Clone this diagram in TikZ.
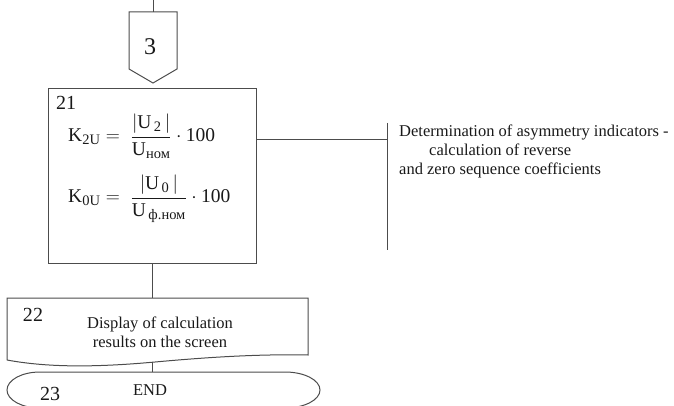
\documentclass[tikz,border=0pt]{standalone}
\usepackage{fix-cm}
\usepackage{amsmath}
\usepackage{fontspec}
\setmainfont{Liberation Serif}
% subscript set at a fixed, slightly larger size
\newcommand{\subtxt}[1]{\mbox{\fontsize{14.5}{15}\selectfont #1}}

\begin{document}
\begin{tikzpicture}[x=1pt,y=-1pt,
  line/.style={draw=black!70, line width=1pt},
  txt/.style={font=\fontsize{16.5}{18.7}\selectfont, inner sep=0pt, text=black!90},
  num/.style={font=\fontsize{20}{22}\selectfont, inner sep=0pt, text=black!90},
  big/.style={font=\fontsize{24}{28}\selectfont, inner sep=0pt, text=black!90},
  fml/.style={font=\fontsize{19.5}{22}\selectfont, inner sep=0pt, text=black!90}]
\useasboundingbox (0,0) rectangle (674,406);

% off-page connector 3
\coordinate (in) at (153,0);
\coordinate (c3top) at (153,12);
\draw[line] (129,12) -- (177,12) -- (177,69) -- (153,83) -- (129,69) -- cycle;
\draw[line] (in) -- (c3top);
\node[big] (c3) at (150,47) {3};

% block 21: asymmetry coefficients
\node[line, minimum width=208pt, minimum height=175pt, inner sep=0pt] (b21) at (152.5,176) {};
\node[num] (n21) at (66,103) {21};
\node[fml, anchor=base west] (f1) at (68,142)
  {$\text{K}_{\subtxt{2U}} = \;\dfrac{\left|\text{U}_{\subtxt{\,2}}\,\right|}{\text{U}_{\subtxt{ном}}}\cdot\text{100}$};
\node[fml, anchor=base west] (f2) at (68,203)
  {$\text{K}_{\subtxt{0U}} = \;\dfrac{\left|\text{U}_{\subtxt{\,0}}\,\right|}{\text{U}_{\subtxt{\,ф.ном}}}\cdot\text{100}$};

% comment bracket
\coordinate (brtop) at (387,123);
\coordinate (brbot) at (387,250);
\coordinate (brmid) at (387,140);
\draw[line] (brtop) -- (brbot);
\draw[line] (brmid -| b21.east) -- (brmid);
\node[txt, anchor=north west, align=left] (note) at (399,125)
  {Determination of asymmetry indicators -\\
   \hspace*{30pt}calculation of reverse\\
   and zero sequence coefficients};

% block 22: display (document shape)
\coordinate (d22nw) at (7,298);
\coordinate (d22ne) at (308,298);
\coordinate (d22se) at (308,355);
\coordinate (d22sw) at (7,360);
\coordinate (d22n) at (152.5,298);
\coordinate (d22s) at (152.5,362);
\draw[line] (d22sw) -- (d22nw) -- (d22ne) -- (d22se)
  .. controls (260,354) and (210,357) .. (155,362)
  .. controls (100,367) and (50,368) .. (d22sw);
\node[num] (n22) at (33,315) {22};
\node[txt, align=center] (t22) at (160,332) {Display of calculation\\results on the screen};
\draw[line] (b21.south) -- (d22n);

% terminator 23 (flattened oval with elliptic ends)
\coordinate (e23top) at (152.5,372);
\draw[line] (40,372) -- (285,372)
  arc[start angle=-90, end angle=90, x radius=35, y radius=18]
  -- (40,408)
  arc[start angle=90, end angle=270, x radius=33, y radius=18] -- cycle;
\node[num] (n23) at (50,394) {23};
\node[txt] (t23) at (150,390) {END};
\draw[line] (d22s) -- (e23top);
\end{tikzpicture}
\end{document}
